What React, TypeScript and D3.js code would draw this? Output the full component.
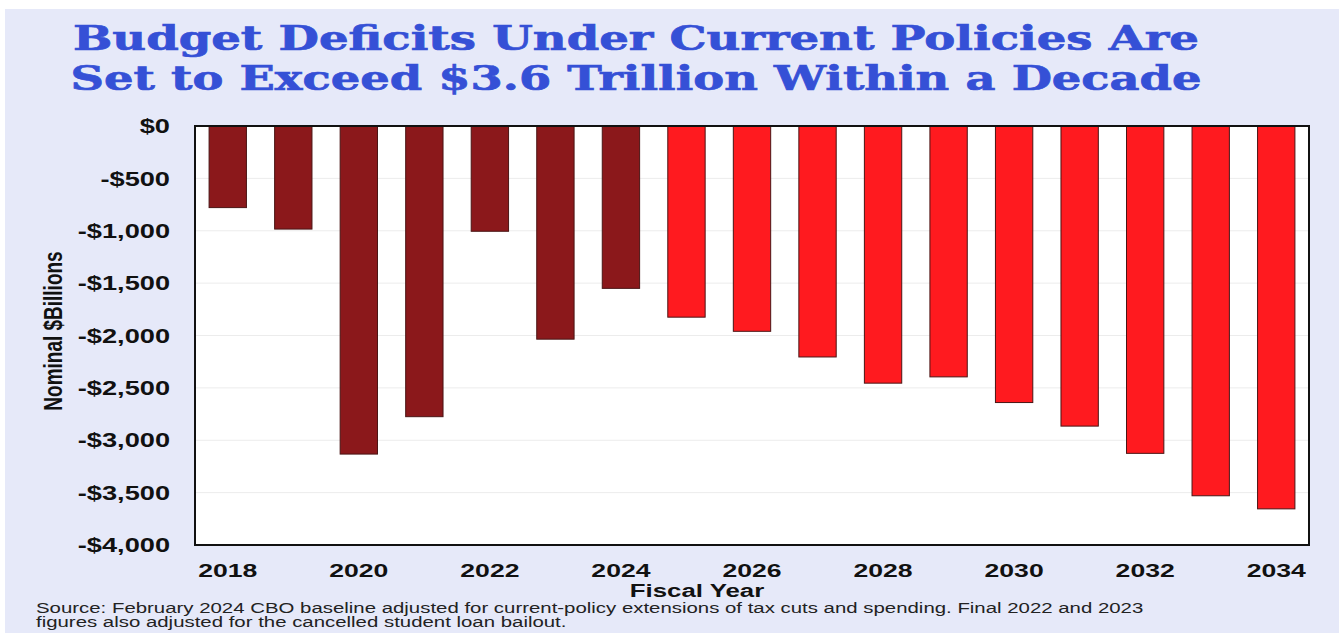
import React from "react";
import * as d3 from "d3";

const years = [2018, 2019, 2020, 2021, 2022, 2023, 2024, 2025, 2026, 2027, 2028, 2029, 2030, 2031, 2032, 2033, 2034];
const deficits = [-779, -984, -3132, -2775, -1005, -2035, -1550, -1825, -1960, -2205, -2455, -2395, -2640, -2865, -3125, -3530, -3655];
const actualThrough = 2024;
const yTicks = [0, -500, -1000, -1500, -2000, -2500, -3000, -3500, -4000];
const xTickYears = [2018, 2020, 2022, 2024, 2026, 2028, 2030, 2032, 2034];
const titleLines = ["Budget Deficits Under Current Policies Are", "Set to Exceed $3.6 Trillion Within a Decade"];
const footerLines = [
  "Source: February 2024 CBO baseline adjusted for current-policy extensions of tax cuts and spending. Final 2022 and 2023",
  "figures also adjusted for the cancelled student loan bailout.",
];

const W = 1339;
const H = 633;
const plot = { left: 195, right: 1309, top: 126, bottom: 545 };
const SX = 1.36; // horizontal stretch of the original image

export default function App() {
  const x = d3.scaleBand<number>().domain(years).range([plot.left, plot.right]).paddingInner(0.43).paddingOuter(0.215);
  const y = d3.scaleLinear().domain([0, -4000]).range([plot.top, plot.bottom]);
  const fmt = (v: number) => (v < 0 ? "-$" : "$") + d3.format(",")(Math.abs(v));
  const sans = "Arial, 'Liberation Sans', sans-serif";

  return (
    <svg width={W} height={H} style={{ position: "absolute", left: 0, top: 0 }}>
      <rect x={0} y={0} width={W} height={H} fill="#ffffff" />
      <rect x={5} y={9} width={W - 5} height={H - 9} fill="#E6E9F9" />
      {titleLines.map((t, i) => (
        <text
          key={i}
          x={636}
          y={50 + i * 40}
          textAnchor="middle"
          fontFamily="'DejaVu Serif', Georgia, serif"
          fontWeight="bold"
          fontSize={34}
          fill="#3550D6"
          stroke="#3550D6"
          strokeWidth={0.7}
          textLength={i === 0 ? 1126 : 1131}
          lengthAdjust="spacingAndGlyphs"
        >
          {t}
        </text>
      ))}
      <rect x={plot.left} y={plot.top} width={plot.right - plot.left} height={plot.bottom - plot.top} fill="#ffffff" />
      {yTicks.map((t) => (
        <g key={t}>
          <line x1={plot.left} x2={plot.right} y1={y(t)} y2={y(t)} stroke="#ececec" strokeWidth={1} />
          <g transform={`translate(170,${y(t)}) scale(${SX},1)`}>
            <text x={0} y={0} dy="0.36em" textAnchor="end" fontFamily={sans} fontWeight="bold" fontSize={20} fill="#111">
              {fmt(t)}
            </text>
          </g>
        </g>
      ))}
      {years.map((yr, i) => {
        const v = deficits[i];
        return (
          <rect
            key={yr}
            x={x(yr)}
            y={y(0)}
            width={x.bandwidth()}
            height={y(v) - y(0)}
            fill={yr <= actualThrough ? "#8B181B" : "#FF1A1F"}
            stroke="#4a1515"
            strokeWidth={1}
          />
        );
      })}
      <rect x={plot.left} y={plot.top} width={plot.right - plot.left} height={plot.bottom - plot.top} fill="none" stroke="#111" strokeWidth={2} />
      {xTickYears.map((yr) => (
        <g key={yr} transform={`translate(${(x(yr) ?? 0) + x.bandwidth() / 2},577) scale(1.4,1)`}>
          <text x={0} y={0} textAnchor="middle" fontFamily={sans} fontWeight="bold" fontSize={19} fill="#111">
            {yr}
          </text>
        </g>
      ))}
      <g transform={`translate(697,597) scale(${SX},1)`}>
        <text x={0} y={0} textAnchor="middle" fontFamily={sans} fontWeight="bold" fontSize={19} fill="#111">
          Fiscal Year
        </text>
      </g>
      <g transform={`translate(62,331) scale(${SX},1) rotate(-90)`}>
        <text x={0} y={0} textAnchor="middle" fontFamily={sans} fontWeight="bold" fontSize={19} fill="#111">
          Nominal $Billions
        </text>
      </g>
      {footerLines.map((t, i) => (
        <g key={i} transform={`translate(36,${613 + i * 14}) scale(${SX * 15 / 14.5},1)`}>
          <text x={0} y={0} fontFamily={sans} fontSize={14.5} fill="#222">
            {t}
          </text>
        </g>
      ))}
    </svg>
  );
}
